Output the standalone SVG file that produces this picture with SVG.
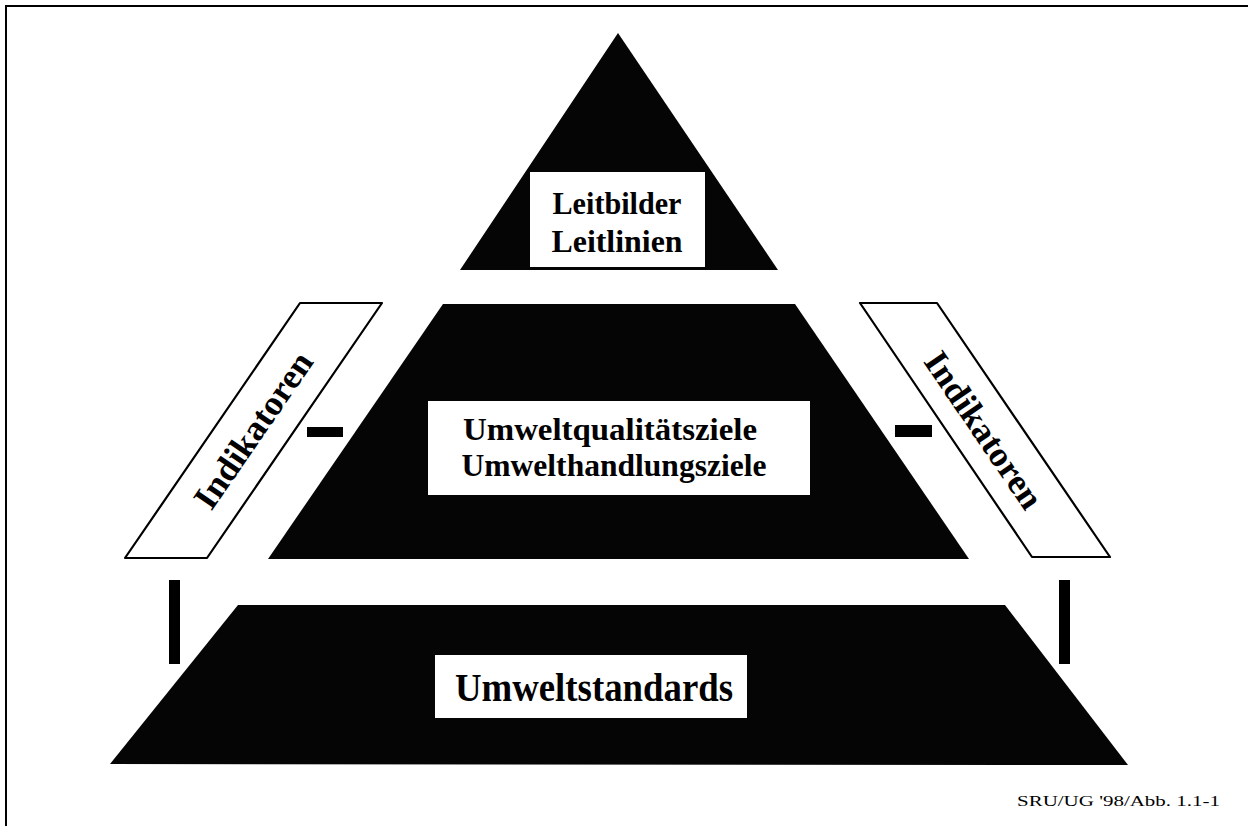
<svg xmlns="http://www.w3.org/2000/svg" width="1248" height="826" viewBox="0 0 1248 826">
<style>
.blk{fill:#000}
.tier{fill:#050505}
.box{fill:#fff}
.para{fill:#fff;stroke:#000;stroke-width:2.2;stroke-linejoin:round}
.lbl{font-family:"Liberation Serif","Times New Roman",serif;font-weight:bold;fill:#000;text-anchor:middle}
.foot{font-family:"Liberation Serif","Times New Roman",serif;fill:#000;font-size:15px}
</style>
<rect width="1248" height="826" fill="#fff"/>
<g id="frame">
<line x1="6" y1="6" x2="1248" y2="6" stroke="#000" stroke-width="2"/>
<line x1="6" y1="5" x2="6" y2="826" stroke="#000" stroke-width="2"/>
</g>
<g id="top">
<polygon class="tier" points="618,33 778,270 460,270"/>
<rect class="box" x="530" y="172" width="175" height="95"/>
<text class="lbl" x="617" y="214" font-size="32" textLength="129" lengthAdjust="spacingAndGlyphs">Leitbilder</text>
<text class="lbl" x="617" y="252" font-size="32" textLength="131" lengthAdjust="spacingAndGlyphs">Leitlinien</text>
</g>
<g id="middle">
<polygon class="tier" points="443,304 795,304 969,559 268,559"/>
<rect class="box" x="428" y="401" width="382" height="94"/>
<text class="lbl" x="610" y="440" font-size="32" textLength="294" lengthAdjust="spacingAndGlyphs">Umweltqualitätsziele</text>
<text class="lbl" x="614" y="476" font-size="32" textLength="305" lengthAdjust="spacingAndGlyphs">Umwelthandlungsziele</text>
</g>
<g id="bottom">
<polygon class="tier" points="238,605 1005,605 1128,765 110,764"/>
<rect class="box" x="435" y="655" width="312" height="63"/>
<text class="lbl" x="594" y="701" font-size="39" textLength="278" lengthAdjust="spacingAndGlyphs">Umweltstandards</text>
</g>
<g id="indikatoren-left">
<polygon class="para" points="300,303 382,303 207,558 125,558"/>
<text class="lbl" transform="translate(253,430) rotate(-55.5)" x="0" y="12" font-size="35" textLength="182" lengthAdjust="spacingAndGlyphs">Indikatoren</text>
</g>
<g id="indikatoren-right">
<polygon class="para" points="860,303 937,303 1110,557 1032,557"/>
<text class="lbl" transform="translate(984,430) rotate(55.7)" x="0" y="12" font-size="35" textLength="182" lengthAdjust="spacingAndGlyphs">Indikatoren</text>
</g>
<g id="connectors">
<rect class="blk" x="307" y="427" width="36" height="10"/>
<rect class="blk" x="895" y="425" width="37" height="12"/>
<rect class="blk" x="169" y="580" width="11" height="84"/>
<rect class="blk" x="1059" y="580" width="11" height="84"/>
</g>
<g id="footer">
<text class="foot" x="1017" y="806" textLength="203" lengthAdjust="spacingAndGlyphs">SRU/UG '98/Abb. 1.1-1</text>
</g>
</svg>
